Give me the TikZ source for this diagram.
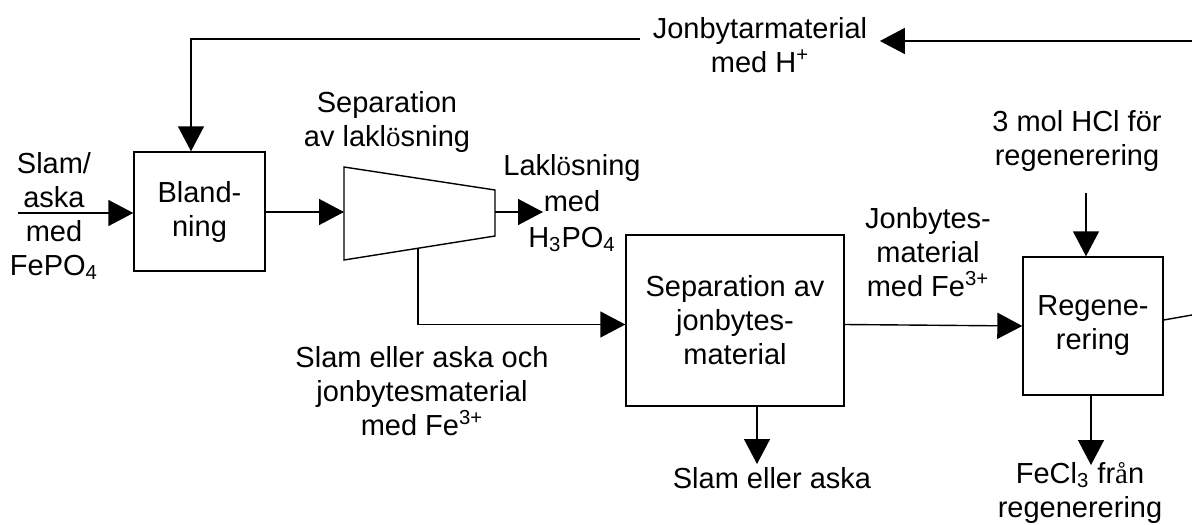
\documentclass[tikz,border=0pt]{standalone}
\usepackage{fontspec}
\setmainfont{Liberation Sans}
\newfontfamily\glyphfont{Liberation Serif}
\usetikzlibrary{arrows.meta}

\begin{document}
\begin{tikzpicture}[x=0.5pt,y=-0.5pt,line width=0.7pt,
    font=\fontsize{14.5}{17}\selectfont,
    box/.style={draw,align=center,inner sep=0pt},
    lbl/.style={align=center,inner sep=0pt},
    arr/.style={-{Triangle[length=12.5pt,width=13pt]}}]
    \useasboundingbox (0,0) rectangle (1192,524);

    % process boxes
    \node[box,minimum width=65.5pt,minimum height=59.5pt] (bland) at (199.5,211.5) {Bland-\\ning};
    \node[box,minimum width=109pt,minimum height=85.5pt] (sepjon) at (735,320.5) {Separation av\\jonbytes-\\material};
    \node[box,minimum width=70pt,minimum height=69pt] (regen) at (1093,326) {Regene-\\rering};
    \draw (344,167) -- (495,190) -- (495,236) -- (344,260) -- cycle;
    \coordinate (trapin) at (344,212);
    \coordinate (trapout) at (495,212);
    \coordinate (trapbot) at (418,248);

    % labels
    \node[lbl] (inlbl) at (54,216) {Slam/\\aska\\med\\FePO\textsubscript{4}};
    \node[lbl] (seplak) at (387,122) {Separation\\av lakl{\glyphfont ö}sning};
    \node[lbl,font=\fontsize{14.5}{18}\selectfont] (laklbl) at (572,203) {Lakl{\glyphfont ö}sning\\med\\H\textsubscript{3}PO\textsubscript{4}};
    \node[lbl] (slamjon) at (422,391) {Slam eller aska och\\jonbytesmaterial\\med Fe\textsuperscript{3+}};
    \node[lbl] (jonlbl) at (928,252) {Jonbytes-\\material\\med Fe\textsuperscript{3+}};
    \node[lbl] (hcllbl) at (1077,141) {3 mol HCl för\\regenerering};
    \node[lbl] (fecllbl) at (1080,493) {FeCl\textsubscript{3} fr{\glyphfont å}n\\regenerering};
    \node[lbl] (slamlbl) at (772,478) {Slam eller aska};
    \node[lbl,inner sep=6pt] (hplus) at (760,45) {Jonbytarmaterial\\med H\textsuperscript{+}};

    % streams
    \coordinate (feed) at (18,213);
    \coordinate (ret) at (191,39);
    \coordinate (regret) at (1192,41);
    \coordinate (lakend) at (543,212);
    \draw[arr] (feed) -- (bland.west |- feed);
    \draw[arr] (hplus.west |- ret) -- (ret) -- (ret |- bland.north);
    \draw[arr] (regret) -- (hplus.east |- regret);
    \draw[arr] (bland.east |- trapin) -- (trapin);
    \draw[arr] (trapout) -- (lakend);
    \draw[arr] (trapbot) |- ([yshift=-2pt]sepjon.west);
    \draw[arr] ([yshift=-2pt]sepjon.east) -- (regen.west);
    \draw[arr] (sepjon.south -| 757,0) -- (757,464);
    \draw[arr] (1086,193) -- (regen.north -| 1086,0);
    \draw[arr] (regen.south -| 1091,0) -- (1091,465);
    \draw ([yshift=3pt]regen.east) -- (1192,315);
\end{tikzpicture}
\end{document}
